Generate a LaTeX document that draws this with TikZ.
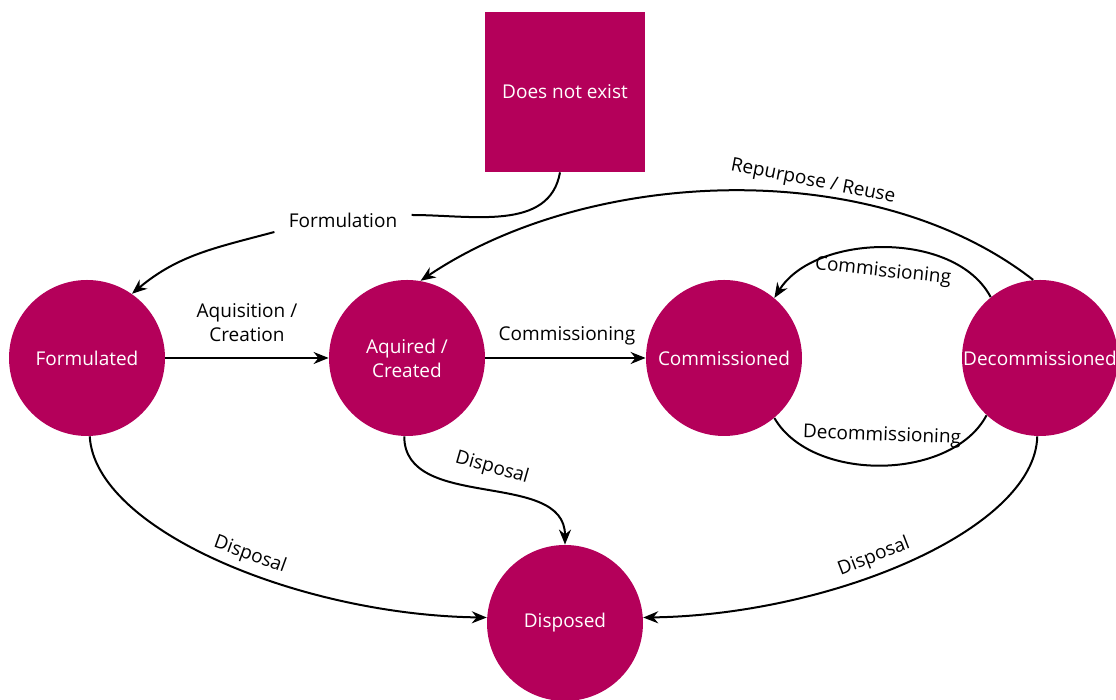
\documentclass[tikz,border=0pt]{standalone}
\usepackage{fontspec}
\setmainfont{Open Sans}
\usetikzlibrary{arrows.meta}
\definecolor{lifecycle}{RGB}{180,0,90}
\tikzset{
  state/.style={circle,fill=lifecycle,text=white,minimum size=78pt,inner sep=0pt,align=center},
  void/.style={rectangle,fill=lifecycle,text=white,minimum size=80pt,inner sep=0pt},
  trans/.style={line width=1pt,-{Stealth[length=7.5pt,width=6pt]}},
  plain/.style={line width=1pt},
  lbl/.style={inner sep=1pt,align=center}
}
\begin{document}
\begin{tikzpicture}[x=.5pt,y=.5pt,font=\fontsize{9.5}{12}\selectfont]
    \useasboundingbox (0,0) rectangle (1116,700);

    %% states
    \node[void] (none) at (565,608) {Does not exist};
    \node[state] (formulated) at (87,342) {Formulated};
    \node[state] (acquired) at (407,342) {Aquired /\\Created};
    \node[state] (commissioned) at (724,342) {Commissioned};
    \node[state] (decommissioned) at (1040,342) {Decommissioned};
    \node[state] (disposed) at (565,77) {Disposed};

    %% labels
    \node[lbl,inner sep=7pt] (formulation) at (343,480) {Formulation};
    \node[lbl] (aquisition) at (247,377) {Aquisition /\\Creation};
    \node[lbl] (commissioning) at (567,364) {Commissioning};
    \node[lbl,rotate=-11] (repurpose) at (813,518) {Repurpose / Reuse};
    \node[lbl,rotate=-6] (recommission) at (883,428) {Commissioning};
    \node[lbl,rotate=-2] (decommission) at (882,264) {Decommissioning};
    \node[lbl,rotate=-16] (disposalA) at (492,232) {Disposal};
    \node[lbl,rotate=-20] (disposalF) at (250,145) {Disposal};
    \node[lbl,rotate=21] (disposalD) at (874,143) {Disposal};

    %% formulation
    \draw[plain] (none.south) ++(-5,0) to[out=-100,in=0] ([yshift=2.5pt]formulation.east);
    \draw[trans] ([yshift=-6pt]formulation.west) to[out=195,in=40] (formulated.55);

    %% forward path
    \draw[trans] (formulated) -- (acquired);
    \draw[trans] (acquired) -- (commissioned);

    %% loops
    \draw[trans] (decommissioned.95) to[out=142,in=34,looseness=.85] (acquired.80);
    \draw[trans] (decommissioned.129) to[out=118,in=58,looseness=.9] (commissioned.50);
    \draw[plain] (commissioned.-50) to[out=-60,in=-118,looseness=.9] (decommissioned.-133);

    %% disposal
    \draw[trans] (acquired.-92) to[out=-90,in=90] (disposed.90);
    \draw[trans] (formulated.-88) .. controls (95,170) and (300,85) .. (disposed.176);
    \draw[trans] (decommissioned.-92) .. controls (1035,170) and (830,85) .. (disposed.4);
\end{tikzpicture}
\end{document}
